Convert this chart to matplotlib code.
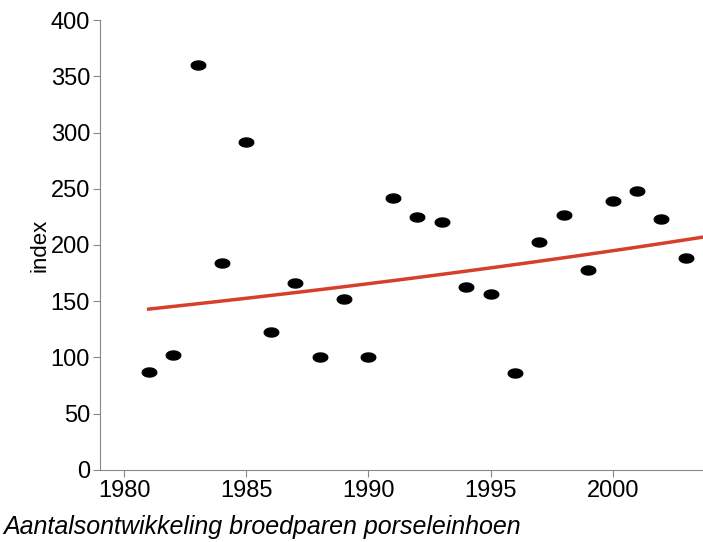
import numpy as np
import matplotlib
matplotlib.use('Agg')
import matplotlib.pyplot as plt

years = list(range(1981, 2004))
index = [87, 102, 360, 184, 292, 123, 166, 100, 152, 100, 242, 225, 220,
         163, 156, 86, 203, 227, 178, 239, 248, 223, 188]
trend_years = [1981, 2003.7]
trend_vals = [143, 207]

plt.rcParams['font.family'] = ['Liberation Sans', 'DejaVu Sans']
fig = plt.figure(figsize=(7.03, 5.42), dpi=100)
ax = fig.add_axes([0.142, 0.133, 0.858, 0.83])

# ellipse marker, wider than tall
t = np.linspace(0, 2 * np.pi, 40)
ell = np.column_stack([np.cos(t), 0.62 * np.sin(t)])
ax.scatter(years, index, marker=ell, s=110, c='black', zorder=3)

tx = np.linspace(trend_years[0], trend_years[1], 50)
ty = trend_vals[0] * (trend_vals[1] / trend_vals[0]) ** ((tx - tx[0]) / (tx[-1] - tx[0]))
ax.plot(tx, ty, color='#d6402a', lw=2.5, zorder=2)

ax.set_xlim(1979.0, 2003.7)
ax.set_ylim(0, 400)
ax.set_xticks(range(1980, 2001, 5))
ax.set_yticks(range(0, 401, 50))
ax.spines['top'].set_visible(False)
ax.spines['right'].set_visible(False)
ax.spines['left'].set_color('#888888')
ax.spines['bottom'].set_color('#888888')
ax.tick_params(labelsize=17, color='#888888', length=5, pad=2)
ax.set_ylabel('index', fontsize=16, labelpad=0)

fig.text(0.005, 0.028, 'Aantalsontwikkeling broedparen porseleinhoen',
         fontsize=18, style='italic', ha='left', va='center')

fig.savefig('out.png', dpi=100)
